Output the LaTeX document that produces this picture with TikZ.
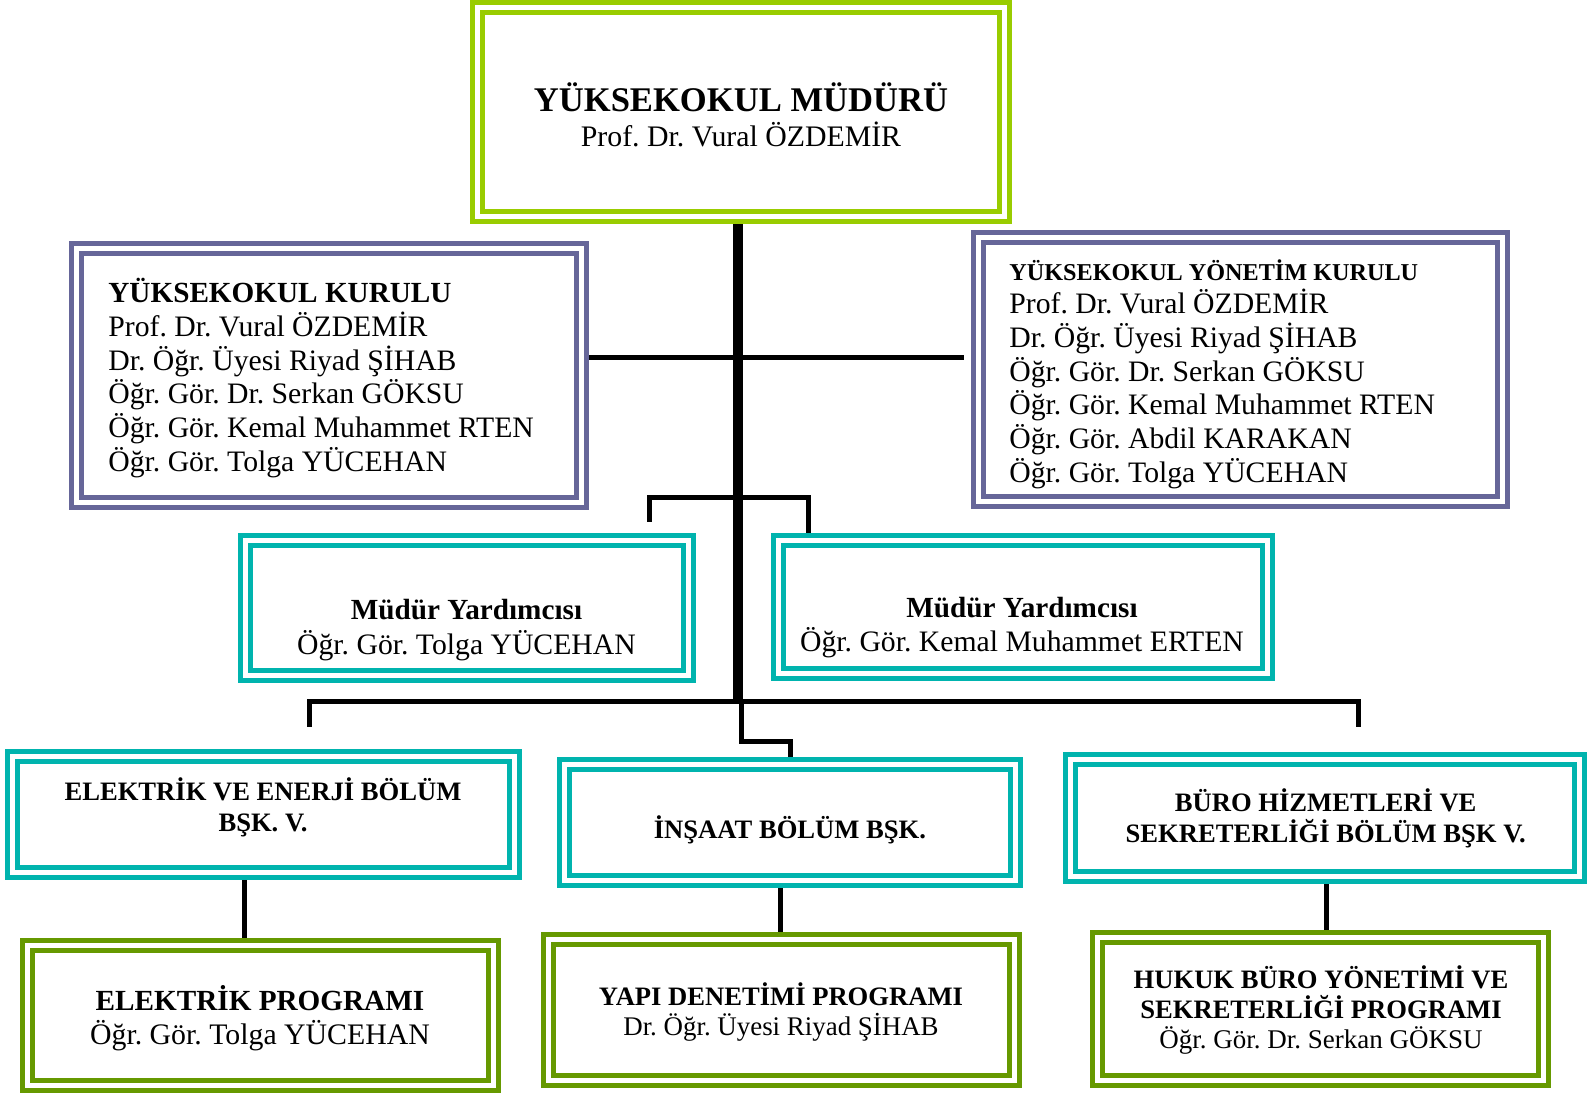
\documentclass[tikz,border=0pt]{standalone}
\usepackage{fontspec}
\setmainfont{Liberation Serif}
\usetikzlibrary{positioning}
\definecolor{cLime}{RGB}{153,204,0}
\definecolor{cPurple}{RGB}{102,102,153}
\definecolor{cTeal}{RGB}{0,180,174}
\definecolor{cOlive}{RGB}{102,153,0}
\pgfdeclarelayer{background}
\pgfsetlayers{background,main}
\tikzset{
  frame/.style={draw=#1, double=white, double distance=2.25pt, line width=2.75pt,
    fill=white, rectangle, inner sep=0pt},
  conn/.style={draw=black, line width=2.5pt},
  lbl/.style={inner sep=0pt, text=black},
}
\frenchspacing
\begin{document}
\begin{tikzpicture}[x=0.5pt,y=-0.5pt]
\frenchspacing
\useasboundingbox (0,0) rectangle (1587,1095);
% frames
\node[frame=cLime, minimum width=263.5pt, minimum height=104.5pt] (top) at (741,112) {};
\node[frame=cPurple, minimum width=252.5pt, minimum height=127pt] (lb) at (329,375.5) {};
\node[frame=cPurple, minimum width=262pt, minimum height=132pt] (rb) at (1240.5,369.5) {};
\node[frame=cTeal, minimum width=221.5pt, minimum height=67.5pt] (myl) at (467,608) {};
\node[frame=cTeal, minimum width=244.5pt, minimum height=66.5pt] (myr) at (1023,607) {};
\node[frame=cTeal, minimum width=251pt, minimum height=58pt] (dl) at (263.5,814.5) {};
\node[frame=cTeal, minimum width=225.5pt, minimum height=58pt] (dm) at (790,822.5) {};
\node[frame=cTeal, minimum width=254.5pt, minimum height=58.5pt] (dr) at (1325,818) {};
\node[frame=cOlive, minimum width=233pt, minimum height=70pt] (pl) at (260.5,1015.5) {};
\node[frame=cOlive, minimum width=233pt, minimum height=70.5pt] (pm) at (781.5,1010) {};
\node[frame=cOlive, minimum width=223pt, minimum height=71.5pt] (pr) at (1320.5,1009) {};
% texts
\node[lbl, align=center, font=\fontsize{17.3pt}{17.6pt}\selectfont\bfseries] (topT) at (741,115)
  {YÜKSEKOKUL MÜDÜRÜ\\\fontsize{14.9pt}{17.6pt}\selectfont\mdseries Prof. Dr. Vural ÖZDEMİR};
\node[lbl, align=left, anchor=west, font=\fontsize{14.85pt}{16.85pt}\selectfont] (lbT) at (108,378)
  {{\fontsize{14.6pt}{16.85pt}\selectfont\bfseries YÜKSEKOKUL KURULU}\\Prof. Dr. Vural ÖZDEMİR\\Dr. Öğr. Üyesi Riyad ŞİHAB\\Öğr. Gör. Dr. Serkan GÖKSU\\Öğr. Gör. Kemal Muhammet RTEN\\Öğr. Gör. Tolga YÜCEHAN};
\node[lbl, align=left, anchor=west, font=\fontsize{14.85pt}{16.85pt}\selectfont] (rbT) at (1009,374)
  {{\fontsize{12.1pt}{16.85pt}\selectfont\bfseries YÜKSEKOKUL YÖNETİM KURULU}\\Prof. Dr. Vural ÖZDEMİR\\Dr. Öğr. Üyesi Riyad ŞİHAB\\Öğr. Gör. Dr. Serkan GÖKSU\\Öğr. Gör. Kemal Muhammet RTEN\\Öğr. Gör. Abdil KARAKAN\\Öğr. Gör. Tolga YÜCEHAN};
\node[lbl, align=center, font=\fontsize{14.85pt}{17.3pt}\selectfont] (mylT) at (466.5,630)
  {{\fontsize{14.6pt}{17.3pt}\selectfont\bfseries Müdür Yardımcısı}\\Öğr. Gör. Tolga YÜCEHAN};
\node[lbl, align=center, font=\fontsize{14.85pt}{17.3pt}\selectfont] (myrT) at (1022,627.5)
  {{\fontsize{14.6pt}{17.3pt}\selectfont\bfseries Müdür Yardımcısı}\\Öğr. Gör. Kemal Muhammet ERTEN};
\node[lbl, align=center, font=\fontsize{13.3pt}{15.5pt}\selectfont\bfseries] (dlT) at (263,807)
  {ELEKTRİK VE ENERJİ BÖLÜM\\BŞK. V.};
\node[lbl, align=center, font=\fontsize{13.3pt}{15.5pt}\selectfont\bfseries] (dmT) at (790,830)
  {İNŞAAT BÖLÜM BŞK.};
\node[lbl, align=center, font=\fontsize{13.3pt}{15.5pt}\selectfont\bfseries] (drT) at (1325.7,818)
  {BÜRO HİZMETLERİ VE\\SEKRETERLİĞİ BÖLÜM BŞK V.};
\node[lbl, align=center, font=\fontsize{14.9pt}{17pt}\selectfont] (plT) at (260,1018)
  {{\fontsize{14.6pt}{17pt}\selectfont\bfseries ELEKTRİK PROGRAMI}\\Öğr. Gör. Tolga YÜCEHAN};
\node[lbl, align=center, font=\fontsize{13.45pt}{15pt}\selectfont] (pmT) at (781,1012)
  {{\fontsize{13.3pt}{15pt}\selectfont\bfseries YAPI DENETİMİ PROGRAMI}\\Dr. Öğr. Üyesi Riyad ŞİHAB};
\node[lbl, align=center, font=\fontsize{13.5pt}{15pt}\selectfont] (prT) at (1321,1010.5)
  {{\fontsize{13.3pt}{15pt}\selectfont\bfseries HUKUK BÜRO YÖNETİMİ VE}\\{\fontsize{13.3pt}{15pt}\selectfont\bfseries SEKRETERLİĞİ PROGRAMI}\\Öğr. Gör. Dr. Serkan GÖKSU};
% connectors
\coordinate (sT) at (738,218);
\coordinate (sB) at (738,704);
\coordinate (bj) at (738,358);
\coordinate (myj) at (738,498);
\coordinate (myA) at (649,522);
\coordinate (bbj) at (738,702);
\coordinate (bbL) at (309,727);
\coordinate (bbR) at (1358,727);
\coordinate (mj) at (741.5,700);
\coordinate (ms) at (741.5,742);
\begin{pgfonlayer}{background}
\draw[conn, line width=5pt] (sT) -- (sB);
\draw[conn, shorten >=6pt] (lb.east |- bj) -- (rb.west |- bj);
\draw[conn] (myA) |- (myj) -| (808,0 |- myr.north);
\draw[conn] (bbL) |- (bbj) -| (bbR);
\draw[conn] (mj) -- (ms) -| (dm.north);
\draw[conn] (244,0 |- dl.south) -- (244,0 |- pl.north);
\draw[conn] (780,0 |- dm.south) -- (780,0 |- pm.north);
\draw[conn] (1326,0 |- dr.south) -- (1326,0 |- pr.north);
\end{pgfonlayer}
\end{tikzpicture}
\end{document}
